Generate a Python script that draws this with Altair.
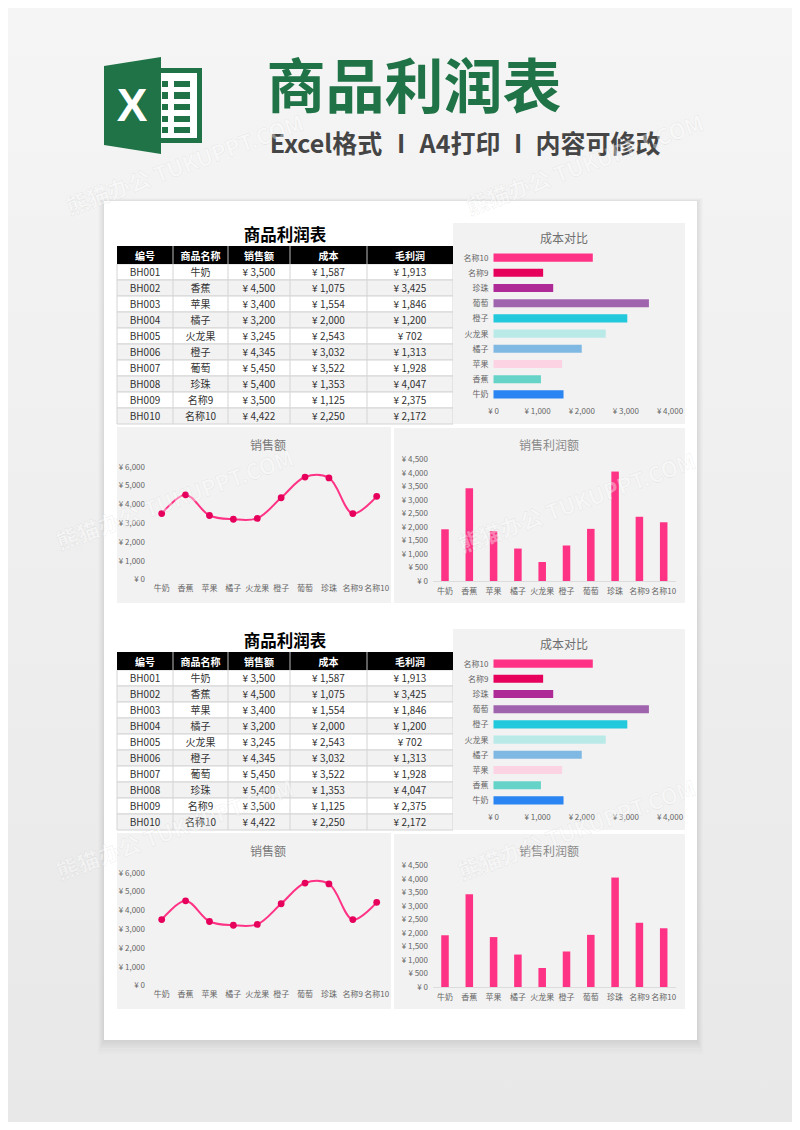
import altair as alt
import pandas as pd

ids = ["BH001","BH002","BH003","BH004","BH005","BH006","BH007","BH008","BH009","BH010"]
names = ["牛奶","香蕉","苹果","橘子","火龙果","橙子","葡萄","珍珠","名称9","名称10"]
sales = [3500,4500,3400,3200,3245,4345,5450,5400,3500,4422]
cost = [1587,1075,1554,2000,2543,3032,3522,1353,1125,2250]
profit = [1913,3425,1846,1200,702,1313,1928,4047,2375,2172]
cost_colors = ["#2a84f2","#66d3c8","#fbd3e3","#7fb8e3","#b9eae8","#22c8dc","#a064ae","#ae2a96","#e6005c","#ff3385"]
headers = ["编号","商品名称","销售额","成本","毛利润"]
cost_ticks = [0,1000,2000,3000,4000]
sales_ticks = [0,1000,2000,3000,4000,5000,6000]
profit_ticks = [0,500,1000,1500,2000,2500,3000,3500,4000,4500]
WATERMARK = "熊猫办公 TUKUPPT.COM"

FONT = "Noto Sans CJK SC"
PINK = "#ff3385"
DEEP = "#e6005c"
GREEN = "#1f7346"
PANEL = "#f2f2f2"
ONE = alt.Data(values=[{"a": 1}])
O = 8  # page margin


def money(v):
    return f"¥ {v:,}"


def box(x0, x1, y0, y1, **kw):
    return alt.Chart(ONE).mark_rect(**kw).encode(
        x=alt.value(x0 - O), x2=alt.value(x1 - O), y=alt.value(y0 - O), y2=alt.value(y1 - O))


def vline(x, y0, y1, color):
    return alt.Chart(ONE).mark_rule(color=color, strokeWidth=1).encode(
        x=alt.value(x - O), y=alt.value(y0 - O), y2=alt.value(y1 - O))


def label(s, x, y, size=10, color="#333333", weight="normal", font=FONT, align="center", **kw):
    return alt.Chart(ONE).mark_text(text=s, fontSize=size, color=color, fontWeight=weight,
                                    font=font, align=align, baseline="middle", **kw).encode(
        x=alt.value(x - O), y=alt.value(y - O))


def table(dy):
    edges = [117, 173, 228, 290, 367, 453]
    rows = pd.DataFrame({
        "id": ids, "name": names,
        "sales": [money(v) for v in sales],
        "cost": [money(v) for v in cost],
        "profit": [money(v) for v in profit],
        "fill": ["#ffffff" if i % 2 == 0 else "#f2f2f2" for i in range(len(ids))],
    })
    yscale = alt.Scale(type="band", domain=ids, range=[264 + dy - O, 424 + dy - O], paddingInner=0, paddingOuter=0)
    ly = [label("商品利润表", 285, 235 + dy, size=16.5, color="#000000", weight="bold")]
    ly.append(alt.Chart(rows).mark_rect(stroke="#d4d4d4", strokeWidth=1).encode(
        x=alt.value(117 - O), x2=alt.value(453 - O),
        y=alt.Y("id:N", scale=yscale, axis=None),
        fill=alt.Fill("fill:N", scale=None)))
    ly.append(box(117, 453, 246 + dy, 264 + dy, color="#000000"))
    for e in edges[1:-1]:
        ly.append(vline(e, 264 + dy, 424 + dy, "#d4d4d4"))
        ly.append(vline(e, 246 + dy, 264 + dy, "#bbbbbb"))
    for i, h in enumerate(headers):
        c = (edges[i] + edges[i + 1]) / 2
        ly.append(label(h, c, 255.5 + dy, size=10, color="#ffffff", weight="bold"))
    for i, col in enumerate(["id", "name", "sales", "cost", "profit"]):
        c = (edges[i] + edges[i + 1]) / 2
        ly.append(alt.Chart(rows).mark_text(font=FONT, fontSize=10, color="#333333", baseline="middle").encode(
            x=alt.value(c - O),
            y=alt.Y("id:N", scale=yscale, axis=None),
            text=alt.Text(f"{col}:N")))
    return ly


def cost_chart(dy):
    order = names[::-1]
    df = pd.DataFrame({"name": names, "cost": cost, "c": cost_colors})
    xs = alt.Scale(domain=[cost_ticks[0], cost_ticks[-1]], range=[493.5 - O, 670 - O], nice=False)
    ys = alt.Scale(type="band", domain=order, range=[250 + dy - O, 402 + dy - O], paddingInner=0.47, paddingOuter=0.235)
    ticks = pd.DataFrame({"v": cost_ticks, "t": [money(v) for v in cost_ticks]})
    return [
        box(453, 685, 223 + dy, 424 + dy, color=PANEL),
        label("成本对比", 564, 238 + dy, size=12, color="#6e6e6e"),
        alt.Chart(df).mark_bar().encode(
            x=alt.X("cost:Q", scale=xs, axis=None),
            y=alt.Y("name:N", scale=ys, axis=None),
            color=alt.Color("c:N", scale=None)),
        alt.Chart(df).mark_text(font=FONT, fontSize=8, color="#666666", align="right", baseline="middle").encode(
            x=alt.value(488.5 - O),
            y=alt.Y("name:N", scale=ys, axis=None),
            text="name:N"),
        alt.Chart(ticks).mark_text(font=FONT, fontSize=8, color="#666666", baseline="middle").encode(
            x=alt.X("v:Q", scale=xs, axis=None),
            y=alt.value(410.7 + dy - O),
            text="t:N"),
    ]


def sales_chart(dy):
    df = pd.DataFrame({"name": names, "v": sales})
    xs = alt.Scale(type="point", domain=names, range=[161.7 - O, 376.7 - O], padding=0)
    ys = alt.Scale(domain=[sales_ticks[0], sales_ticks[-1]], range=[579.3 + dy - O, 466.7 + dy - O], nice=False)
    ticks = pd.DataFrame({"v": sales_ticks, "t": [money(v) for v in sales_ticks]})
    return [
        box(117, 391, 427 + dy, 603 + dy, color=PANEL),
        label("销售额", 268, 445 + dy, size=12, color="#7a7a7a"),
        alt.Chart(df).mark_line(color=PINK, strokeWidth=2, interpolate="catmull-rom").encode(
            x=alt.X("name:N", scale=xs, axis=None),
            y=alt.Y("v:Q", scale=ys, axis=None)),
        alt.Chart(df).mark_point(color=DEEP, filled=True, opacity=1, size=46).encode(
            x=alt.X("name:N", scale=xs, axis=None),
            y=alt.Y("v:Q", scale=ys, axis=None)),
        alt.Chart(ticks).mark_text(font=FONT, fontSize=8, color="#666666", align="right", baseline="middle").encode(
            x=alt.value(145 - O),
            y=alt.Y("v:Q", scale=ys, axis=None),
            text="t:N"),
        alt.Chart(df).mark_text(font=FONT, fontSize=8, color="#666666", baseline="middle").encode(
            x=alt.X("name:N", scale=xs, axis=None),
            y=alt.value(588 + dy - O),
            text="name:N"),
    ]


def profit_chart(dy):
    df = pd.DataFrame({"name": names, "v": profit})
    step = (663.7 - 445) / 9
    xs = alt.Scale(type="band", domain=names, range=[445 - step / 2 - O, 663.7 + step / 2 - O],
                   paddingInner=0.69, paddingOuter=0.345)
    ys = alt.Scale(domain=[profit_ticks[0], profit_ticks[-1]], range=[581 + dy - O, 459.3 + dy - O], nice=False)
    ticks = pd.DataFrame({"v": profit_ticks, "t": [money(v) for v in profit_ticks]})
    return [
        box(394, 685, 428 + dy, 603 + dy, color=PANEL),
        label("销售利润额", 549, 445 + dy, size=12, color="#8a8a8a"),
        alt.Chart(ONE).mark_rule(color="#dcdcdc", strokeWidth=1).encode(
            x=alt.value(433 - O), x2=alt.value(676 - O), y=alt.value(581.5 + dy - O)),
        alt.Chart(df).mark_bar(color=PINK).encode(
            x=alt.X("name:N", scale=xs, axis=None),
            y=alt.Y("v:Q", scale=ys, axis=None)),
        alt.Chart(ticks).mark_text(font=FONT, fontSize=8, color="#666666", align="right", baseline="middle").encode(
            x=alt.value(428 - O),
            y=alt.Y("v:Q", scale=ys, axis=None),
            text="t:N"),
        alt.Chart(df).mark_text(font=FONT, fontSize=8, color="#666666", baseline="middle").encode(
            x=alt.X("name:N", scale=xs, axis=None),
            y=alt.value(590.7 + dy - O),
            text="name:N"),
    ]


def logo():
    ly = [box(161, 202, 68, 143, color=GREEN), box(161, 197, 73, 138, color="#ffffff")]
    for y0, y1 in [(81, 87), (92, 99), (104, 110), (116, 122), (127, 133)]:
        ly.append(box(162, 168, y0, y1, color=GREEN))
        ly.append(box(174, 190, y0, y1, color=GREEN))
    ly.append(alt.Chart(ONE).mark_point(
        shape="M-1,-1.386L1,-1.7L1,1.7L-1,1.386Z", filled=True, opacity=1, color=GREEN, size=3249, strokeWidth=0
    ).encode(x=alt.value(132.5 - O), y=alt.value(105.5 - O)))
    ly.append(label("X", 132, 105.5, size=46, color="#ffffff", weight="bold", font="Liberation Sans"))
    return ly


def watermarks():
    ly = []
    for x, y in [(185, 165), (585, 165), (175, 500), (577, 503), (175, 830), (577, 830)]:
        ly.append(label(WATERMARK, x, y, size=22, color="#ffffff", weight="bold", angle=340,
                        fillOpacity=0.4, stroke="#999999", strokeOpacity=0.16, strokeWidth=0.6))
    return ly


bg = alt.Chart(ONE).mark_rect(
    fill=alt.LinearGradient(gradient="linear", x1=0, y1=0, x2=0, y2=1,
                            stops=[alt.GradientStop(offset=0, color="#f5f5f5"),
                                   alt.GradientStop(offset=1, color="#e8e8e8")])
).encode(x=alt.value(0), x2=alt.value(784), y=alt.value(0), y2=alt.value(1114))

shadow = [box(104 - a, 697 + a, 201 - a // 2, 1040 + b, color="#000000", opacity=c)
          for a, b, c in [(6, 14, 0.012), (5, 11, 0.012), (4, 8, 0.015), (3, 6, 0.015), (2, 4, 0.015), (1, 2, 0.015)]]
paper = box(104, 697, 201, 1040, color="#ffffff")

SUB = "#454545"
head = [
    label("商品利润表", 414, 88.5, size=59, color=GREEN, weight="bold"),
    label("Excel格式", 326, 144, size=25, color=SUB, weight="bold"),
    label("I", 401, 144, size=25, color=SUB, weight="bold"),
    label("A4打印", 460, 144, size=25, color=SUB, weight="bold"),
    label("I", 518, 144, size=25, color=SUB, weight="bold"),
    label("内容可修改", 598, 144, size=25, color=SUB, weight="bold"),
]

layers = [bg] + shadow + [paper] + logo() + head
for dy in (0, 406):
    layers += table(dy) + cost_chart(dy) + sales_chart(dy) + profit_chart(dy)
layers += watermarks()

chart = alt.layer(*layers).resolve_scale(x="independent", y="independent").properties(
    width=784, height=1114, padding=0, autosize=alt.AutoSizeParams(type="none"), background="#f2f2f2"
).configure_view(stroke=None).configure_text(dy=1)

chart.save("out.html", embed_options={"renderer": "svg", "actions": False})
